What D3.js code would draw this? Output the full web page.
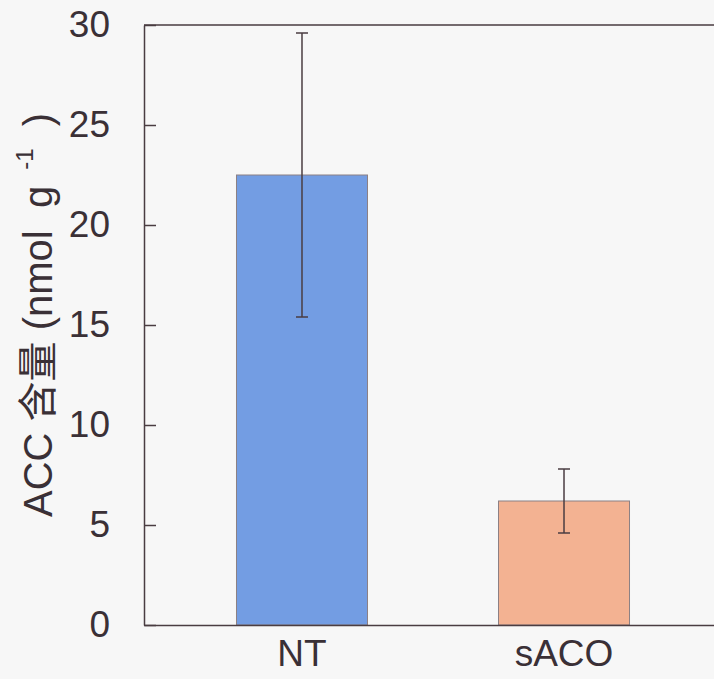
<!DOCTYPE html>
<html>
<head>
<meta charset="utf-8">
<script src="https://cdn.jsdelivr.net/npm/d3@7"></script>
<style>
    html, body { margin: 0; padding: 0; background: #f7f7f7; }
    svg { display: block; font-family: "Liberation Sans", Arial, "Noto Sans CJK SC", sans-serif; }
</style>
</head>
<body>
<div id="chart"></div>
<script>
// data
const categories = ["NT", "sACO"]
const means = [22.5, 6.2]
const errors = [7.1, 1.6]
const barColors = ["#739de3", "#f3b292"]
const yTicks = [0, 5, 10, 15, 20, 25, 30]

const width = 714
const height = 679
const margin = { left: 144, top: 25, right: -8, bottom: 54 }
const inner_width = width - margin.left - margin.right
const inner_height = height - margin.top - margin.bottom
const axisColor = "#4a3d42"

const svg = d3.select("#chart").append("svg")
    .attr("width", width)
    .attr("height", height)

const g = svg.append("g")
    .attr("transform", `translate(${margin.left},${margin.top})`)

/** x scale */
const xScale = d3.scaleBand()
    .domain(categories)
    .range([0, inner_width])
    .paddingInner(0.5)
    .paddingOuter(0.353)

/** y scale */
const yScale = d3.scaleLinear()
    .domain([0, 30])
    .range([inner_height, 0])

// bars
g.append("g")
    .selectAll("rect")
    .data(categories)
    .enter()
    .append("rect")
    .attr("x", d => xScale(d))
    .attr("y", (d, i) => yScale(means[i]))
    .attr("width", xScale.bandwidth())
    .attr("height", (d, i) => inner_height - yScale(means[i]))
    .attr("fill", (d, i) => barColors[i])
    .attr("stroke", "#8c8084")
    .attr("stroke-width", 1)

// error bars
const err = g.append("g")
    .attr("stroke", axisColor)
    .attr("stroke-width", 1.5)
const cx = d => xScale(d) + xScale.bandwidth() / 2
err.selectAll("line.v")
    .data(categories)
    .enter()
    .append("line")
    .attr("class", "v")
    .attr("x1", cx).attr("x2", cx)
    .attr("y1", (d, i) => yScale(means[i] + errors[i]))
    .attr("y2", (d, i) => yScale(means[i] - errors[i]))
for (const sign of [1, -1]) {
    err.selectAll("line.cap" + sign)
        .data(categories)
        .enter()
        .append("line")
        .attr("x1", d => cx(d) - 6).attr("x2", d => cx(d) + 6)
        .attr("y1", (d, i) => yScale(means[i] + sign * errors[i]))
        .attr("y2", (d, i) => yScale(means[i] + sign * errors[i]))
}

// y axis, ticks pointing inward
const yAxis = g.append("g")
    .call(d3.axisLeft(yScale).tickValues(yTicks).tickSize(-12).tickSizeOuter(0).tickPadding(34))
yAxis.selectAll("text")
    .attr("font-size", 37)
    .attr("fill", "#3a3036")

// x axis, no ticks
const xAxis = g.append("g")
    .attr("transform", `translate(0,${inner_height})`)
    .call(d3.axisBottom(xScale).tickSize(0).tickPadding(15))
xAxis.selectAll("text")
    .attr("font-size", 37)
    .attr("fill", "#3a3036")

g.selectAll(".domain, .tick line")
    .attr("stroke", axisColor)
    .attr("stroke-width", 1.5)

// frame top and right
g.append("path")
    .attr("d", `M0,0H${inner_width}V${inner_height}`)
    .attr("fill", "none")
    .attr("stroke", axisColor)
    .attr("stroke-width", 1.5)

// y axis label
const label = svg.append("text")
    .attr("transform", "translate(52,517) rotate(-90)")
    .attr("text-anchor", "start")
    .attr("font-size", 40)
    .attr("fill", "#3a3036")
    .attr("xml:space", "preserve")
    .style("white-space", "pre")
label.append("tspan").text("ACC 含量 (nmol  g")
label.append("tspan").attr("dy", -19).attr("dx", 16).attr("font-size", 24).text("-1")
label.append("tspan").attr("dy", 19).text("  )")
</script>
</body>
</html>
